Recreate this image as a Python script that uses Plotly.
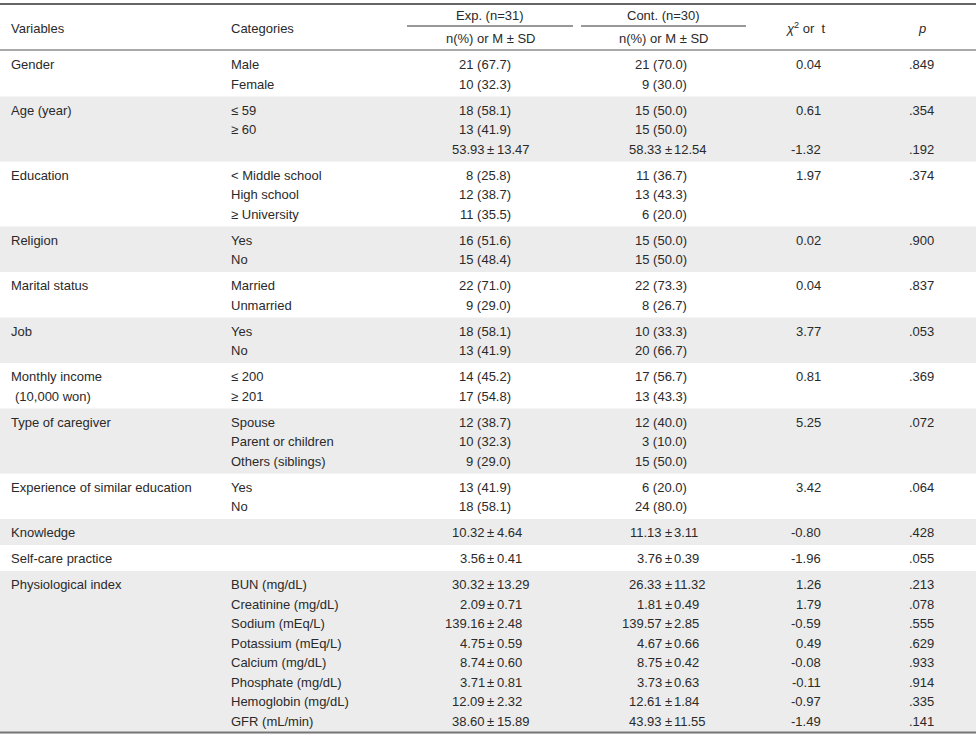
import plotly.graph_objects as go

# ---------------- data ----------------
variables = [
    ["Gender"], ["Age (year)"], ["Education"], ["Religion"], ["Marital status"], ["Job"],
    ["Monthly income", "(10,000 won)"], ["Type of caregiver"],
    ["Experience of similar education"], ["Knowledge"], ["Self-care practice"],
    ["Physiological index"],
]
categories = [
    ["Male", "Female"],
    ["≤ 59", "≥ 60", ""],
    ["< Middle school", "High school", "≥ University"],
    ["Yes", "No"],
    ["Married", "Unmarried"],
    ["Yes", "No"],
    ["≤ 200", "≥ 201"],
    ["Spouse", "Parent or children", "Others (siblings)"],
    ["Yes", "No"],
    [""],
    [""],
    ["BUN (mg/dL)", "Creatinine (mg/dL)", "Sodium (mEq/L)", "Potassium (mEq/L)",
     "Calcium (mg/dL)", "Phosphate (mg/dL)", "Hemoglobin (mg/dL)", "GFR (mL/min)"],
]
exp_values = [
    ["21 (67.7)", "10 (32.3)"],
    ["18 (58.1)", "13 (41.9)", "53.93 ± 13.47"],
    ["8 (25.8)", "12 (38.7)", "11 (35.5)"],
    ["16 (51.6)", "15 (48.4)"],
    ["22 (71.0)", "9 (29.0)"],
    ["18 (58.1)", "13 (41.9)"],
    ["14 (45.2)", "17 (54.8)"],
    ["12 (38.7)", "10 (32.3)", "9 (29.0)"],
    ["13 (41.9)", "18 (58.1)"],
    ["10.32 ± 4.64"],
    ["3.56 ± 0.41"],
    ["30.32 ± 13.29", "2.09 ± 0.71", "139.16 ± 2.48", "4.75 ± 0.59",
     "8.74 ± 0.60", "3.71 ± 0.81", "12.09 ± 2.32", "38.60 ± 15.89"],
]
cont_values = [
    ["21 (70.0)", "9 (30.0)"],
    ["15 (50.0)", "15 (50.0)", "58.33 ± 12.54"],
    ["11 (36.7)", "13 (43.3)", "6 (20.0)"],
    ["15 (50.0)", "15 (50.0)"],
    ["22 (73.3)", "8 (26.7)"],
    ["10 (33.3)", "20 (66.7)"],
    ["17 (56.7)", "13 (43.3)"],
    ["12 (40.0)", "3 (10.0)", "15 (50.0)"],
    ["6 (20.0)", "24 (80.0)"],
    ["11.13 ± 3.11"],
    ["3.76 ± 0.39"],
    ["26.33 ± 11.32", "1.81 ± 0.49", "139.57 ± 2.85", "4.67 ± 0.66",
     "8.75 ± 0.42", "3.73 ± 0.63", "12.61 ± 1.84", "43.93 ± 11.55"],
]
stat_values = [
    ["0.04"], ["0.61", "", "-1.32"], ["1.97"], ["0.02"], ["0.04"], ["3.77"], ["0.81"],
    ["5.25"], ["3.42"], ["-0.80"], ["-1.96"],
    ["1.26", "1.79", "-0.59", "0.49", "-0.08", "-0.11", "-0.97", "-1.49"],
]
p_values = [
    [".849"], [".354", "", ".192"], [".374"], [".900"], [".837"], [".053"], [".369"],
    [".072"], [".064"], [".428"], [".055"],
    [".213", ".078", ".555", ".629", ".933", ".914", ".335", ".141"],
]
header_groups = ["Exp. (n=31)", "Cont. (n=30)"]
header_sub = "n(%) or M ± SD"

# ---------------- layout settings ----------------
W, H = 976, 736
FONT = "Liberation Sans, Arial, sans-serif"
FS = 13
TXT = "#2a2a2a"
BAND = "#ececec"
LINE_H = 19.5
PAD = 6.5
HEAD_BOTTOM = 50
X_VAR, X_CAT = 10, 230
EXP_PM, CONT_PM = 490.5, 668
EXP_RIGHT, CONT_RIGHT = 512, 688
STAT_RIGHT, P_RIGHT = 822, 935
EXP_SPAN, CONT_SPAN = (407, 573), (581, 746)

fig = go.Figure()
shapes, annots = [], []


def txt(x, y, s, anchor="left"):
    annots.append(dict(x=x, y=y, text=s, xref="x", yref="y", showarrow=False,
                       xanchor=anchor, yanchor="middle", borderpad=0,
                       font=dict(family=FONT, size=FS, color=TXT)))


def value(s, pm_x, right_x, y):
    if not s:
        return
    if "±" in s:
        a, b = [t.strip() for t in s.split("±")]
        txt(pm_x - 5, y, a, "right")
        txt(pm_x, y, "±", "center")
        txt(pm_x + 5, y, b, "left")
    else:
        txt(right_x, y, s, "right")


# header
shapes.append(dict(type="line", x0=0, x1=W, y0=4, y1=4, line=dict(color="#333333", width=1.6)))
shapes.append(dict(type="line", x0=0, x1=W, y0=HEAD_BOTTOM, y1=HEAD_BOTTOM,
                   line=dict(color="#555555", width=1.2)))
for span, label in zip([EXP_SPAN, CONT_SPAN], header_groups):
    cx = (span[0] + span[1]) / 2
    shapes.append(dict(type="line", x0=span[0], x1=span[1], y0=26, y1=26,
                       line=dict(color="#333333", width=1.2)))
    txt(cx, 15, label, "center")
    txt(cx, 38.5, header_sub, "center")
txt(X_VAR, 28, "Variables")
txt(X_CAT, 28, "Categories")
txt(806, 28, "<i>χ</i><sup>2</sup> or  t", "center")
txt(922, 28, "<i>p</i>", "center")

# body
y_top = HEAD_BOTTOM + 1
for g, var in enumerate(variables):
    n = len(categories[g])
    h = n * LINE_H + PAD
    if g % 2 == 1:
        shapes.append(dict(type="rect", x0=0, x1=W, y0=y_top, y1=y_top + h,
                           fillcolor=BAND, line=dict(width=0), layer="below"))
    for i in range(n):
        y = y_top + PAD / 2 + LINE_H * (i + 0.5) + 0.5
        if i < len(var):
            txt(X_VAR + (4 if i > 0 else 0), y, var[i])
        if categories[g][i]:
            txt(X_CAT, y, categories[g][i])
        value(exp_values[g][i] if i < len(exp_values[g]) else "", EXP_PM, EXP_RIGHT, y)
        value(cont_values[g][i] if i < len(cont_values[g]) else "", CONT_PM, CONT_RIGHT, y)
        if i < len(stat_values[g]) and stat_values[g][i]:
            txt(STAT_RIGHT, y, stat_values[g][i], "right")
        if i < len(p_values[g]) and p_values[g][i]:
            txt(P_RIGHT, y, p_values[g][i], "right")
    y_top += h

shapes.append(dict(type="line", x0=0, x1=W, y0=y_top - 1, y1=y_top - 1,
                   line=dict(color="#777777", width=2)))

fig.update_layout(
    width=W, height=H, margin=dict(l=0, r=0, t=0, b=0),
    paper_bgcolor="white", plot_bgcolor="white",
    xaxis=dict(range=[0, W], visible=False, fixedrange=True),
    yaxis=dict(range=[H, 0], visible=False, fixedrange=True),
    shapes=shapes, annotations=annots, showlegend=False,
)
fig.write_html("out.html", config={"displayModeBar": False},
               post_script="document.body.style.margin='0';document.body.style.overflow='hidden';")
